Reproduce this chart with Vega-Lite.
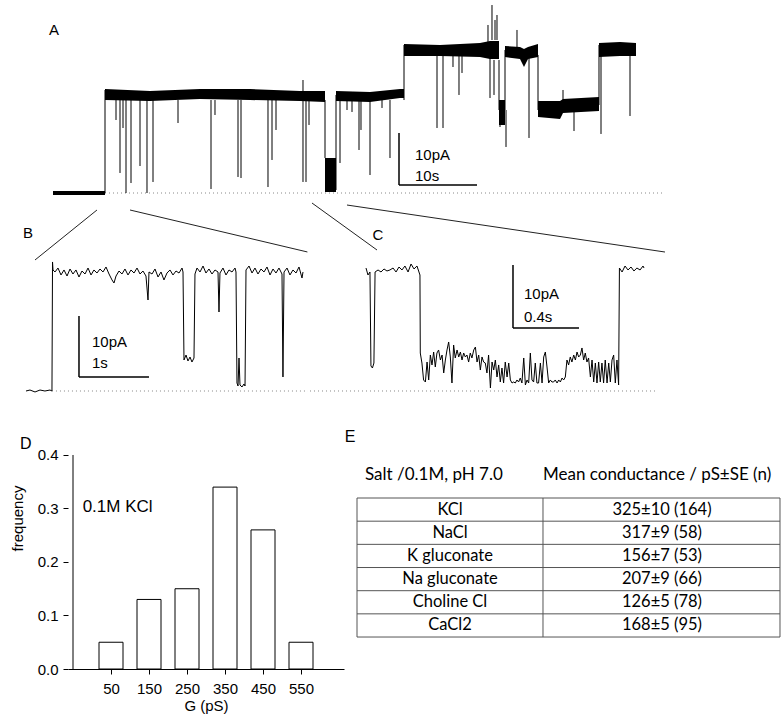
{
"$schema": "https://vega.github.io/schema/vega-lite/v6.json",
"padding": 0,
"autosize": {"type": "pad"},
"background": "white",
"spacing": 0,
"config": {"view": {"stroke": null}, "font": "Liberation Sans", "concat": {"spacing": 0}},
"datasets": {
"a_band": [
{"s":0,"t":0.128,"lo":-0.38,"hi":0.38},{"s":0,"t":6.795,"lo":-0.38,"hi":0.38},
{"s":1,"t":6.795,"lo":17.88,"hi":20.0},{"s":1,"t":12.564,"lo":17.69,"hi":19.62},{"s":1,"t":18.974,"lo":18.08,"hi":20.0},{"s":1,"t":25.385,"lo":17.88,"hi":20.0},{"s":1,"t":31.795,"lo":17.69,"hi":19.62},{"s":1,"t":35.0,"lo":17.5,"hi":19.62},
{"s":2,"t":35.0,"lo":0.19,"hi":6.73},{"s":2,"t":36.41,"lo":0.19,"hi":6.73},
{"s":3,"t":36.41,"lo":17.69,"hi":19.62},{"s":3,"t":40.769,"lo":17.5,"hi":19.42},{"s":3,"t":44.615,"lo":18.27,"hi":20.0},{"s":3,"t":45.128,"lo":18.27,"hi":20.0},
{"s":4,"t":45.128,"lo":26.35,"hi":28.65},{"s":4,"t":49.744,"lo":26.35,"hi":28.46},{"s":4,"t":54.872,"lo":26.15,"hi":28.85},{"s":4,"t":56.154,"lo":25.77,"hi":29.23},{"s":4,"t":57.308,"lo":25.77,"hi":29.23},
{"s":5,"t":57.308,"lo":13.08,"hi":17.88},{"s":5,"t":58.077,"lo":13.08,"hi":17.88},
{"s":6,"t":58.077,"lo":26.15,"hi":28.27},{"s":6,"t":60.0,"lo":25.77,"hi":28.08},{"s":6,"t":60.513,"lo":24.23,"hi":27.69},{"s":6,"t":61.026,"lo":25.77,"hi":28.08},{"s":6,"t":62.308,"lo":26.15,"hi":28.65},
{"s":7,"t":62.308,"lo":14.62,"hi":17.69},{"s":7,"t":65.128,"lo":14.23,"hi":17.69},{"s":7,"t":65.513,"lo":15.38,"hi":18.08},{"s":7,"t":70.128,"lo":15.77,"hi":18.46},
{"s":8,"t":70.128,"lo":26.15,"hi":28.85},{"s":8,"t":72.821,"lo":26.35,"hi":29.04},{"s":8,"t":74.872,"lo":26.35,"hi":28.85}
],
"a_rule": [
{"t":6.795,"a":0,"b":19.81},{"t":35.0,"a":17.88,"b":6.73},{"t":36.41,"a":0.58,"b":18.85},{"t":45.128,"a":17.88,"b":28.46},
{"t":57.308,"a":25.58,"b":15.96},{"t":58.077,"a":15.96,"b":27.5},{"t":62.308,"a":26.54,"b":15.96},{"t":70.128,"a":16.92,"b":28.46},
{"t":8.205,"a":17.88,"b":14.04},{"t":8.718,"a":17.88,"b":3.85},{"t":9.103,"a":17.88,"b":12.5},{"t":9.487,"a":17.88,"b":0},
{"t":10.128,"a":17.88,"b":1.92},{"t":11.282,"a":17.88,"b":5.19},{"t":12.179,"a":17.88,"b":0},{"t":12.949,"a":17.88,"b":2.12},
{"t":16.154,"a":17.88,"b":13.46},{"t":20.385,"a":17.88,"b":0.77},{"t":20.897,"a":17.88,"b":15.0},{"t":23.846,"a":17.88,"b":3.08},
{"t":24.231,"a":17.88,"b":2.88},{"t":27.692,"a":17.88,"b":1.15},{"t":28.205,"a":17.88,"b":6.35},{"t":28.718,"a":17.88,"b":12.12},
{"t":32.179,"a":17.88,"b":2.12},{"t":32.179,"a":18.85,"b":21.73},{"t":32.564,"a":17.88,"b":2.12},{"t":32.949,"a":17.88,"b":13.08},
{"t":36.923,"a":17.88,"b":5.77},{"t":37.821,"a":17.88,"b":15.96},{"t":38.462,"a":17.88,"b":15.58},{"t":39.359,"a":17.88,"b":8.27},
{"t":39.615,"a":17.88,"b":12.12},{"t":40.769,"a":17.88,"b":3.46},{"t":42.308,"a":17.88,"b":16.35},{"t":43.333,"a":17.88,"b":6.73},
{"t":49.359,"a":26.54,"b":12.5},{"t":50.128,"a":26.54,"b":12.5},{"t":51.41,"a":26.54,"b":24.23},{"t":52.179,"a":26.54,"b":18.85},
{"t":52.564,"a":26.54,"b":23.08},{"t":55.897,"a":28.46,"b":32.31},{"t":56.154,"a":26.54,"b":18.27},{"t":56.41,"a":29.42,"b":36.15},
{"t":56.667,"a":25.58,"b":18.85},{"t":56.795,"a":29.42,"b":33.27},{"t":57.051,"a":29.42,"b":34.23},
{"t":57.436,"a":17.88,"b":12.69},{"t":58.205,"a":15.96,"b":8.85},{"t":59.615,"a":26.54,"b":31.35},{"t":61.154,"a":26.54,"b":10.58},
{"t":65.513,"a":16.35,"b":19.81},{"t":66.923,"a":16.35,"b":11.92},{"t":70.385,"a":26.54,"b":11.35},{"t":74.103,"a":26.54,"b":14.81}
],
"b_trace": [
{"t":0,"i":0},{"t":0.057,"i":0.16},{"t":0.129,"i":-0.16},{"t":0.2,"i":0.16},{"t":0.271,"i":0},{"t":0.343,"i":0.16},{"t":0.371,"i":0},
{"t":0.379,"i":21.15},{"t":0.386,"i":19.84},{"t":0.414,"i":19.51},{"t":0.457,"i":20.16},{"t":0.5,"i":19.02},{"t":0.543,"i":19.84},{"t":0.586,"i":18.85},
{"t":0.629,"i":20.0},{"t":0.671,"i":19.18},{"t":0.714,"i":19.84},{"t":0.757,"i":18.69},{"t":0.8,"i":19.67},{"t":0.843,"i":19.18},{"t":0.886,"i":20.16},
{"t":0.929,"i":19.02},{"t":0.971,"i":19.84},{"t":1.014,"i":19.34},{"t":1.057,"i":20.0},{"t":1.1,"i":19.51},{"t":1.143,"i":20.33},{"t":1.186,"i":19.18},
{"t":1.229,"i":18.2},{"t":1.257,"i":17.7},{"t":1.286,"i":18.85},{"t":1.329,"i":19.67},{"t":1.371,"i":19.18},{"t":1.414,"i":20.0},{"t":1.457,"i":19.02},
{"t":1.5,"i":19.84},{"t":1.543,"i":19.34},{"t":1.586,"i":20.16},{"t":1.629,"i":19.18},{"t":1.671,"i":19.67},{"t":1.714,"i":18.85},{"t":1.743,"i":14.92},
{"t":1.757,"i":19.51},{"t":1.8,"i":19.18},{"t":1.843,"i":20.0},{"t":1.886,"i":18.69},{"t":1.929,"i":19.51},{"t":1.971,"i":18.2},{"t":2.014,"i":19.34},
{"t":2.057,"i":19.84},{"t":2.1,"i":19.02},{"t":2.143,"i":19.67},{"t":2.186,"i":19.34},{"t":2.229,"i":20.16},{"t":2.243,"i":19.51},
{"t":2.257,"i":5.08},{"t":2.286,"i":5.9},{"t":2.314,"i":4.92},{"t":2.343,"i":5.57},{"t":2.371,"i":4.75},{"t":2.4,"i":5.41},
{"t":2.414,"i":19.18},{"t":2.443,"i":20.16},{"t":2.486,"i":19.51},{"t":2.529,"i":20.49},{"t":2.571,"i":19.34},{"t":2.614,"i":20.0},{"t":2.657,"i":19.18},
{"t":2.7,"i":19.84},{"t":2.743,"i":19.51},{"t":2.757,"i":12.95},{"t":2.771,"i":19.34},{"t":2.814,"i":20.16},{"t":2.857,"i":19.02},{"t":2.9,"i":19.84},
{"t":2.943,"i":19.51},{"t":2.986,"i":20.16},{"t":3.0,"i":19.51},
{"t":3.014,"i":1.31},{"t":3.029,"i":0.82},{"t":3.043,"i":5.41},{"t":3.057,"i":0.98},{"t":3.086,"i":0.66},{"t":3.114,"i":1.15},{"t":3.129,"i":0.82},
{"t":3.143,"i":19.84},{"t":3.186,"i":20.49},{"t":3.229,"i":19.34},{"t":3.271,"i":20.16},{"t":3.314,"i":19.18},{"t":3.357,"i":20.0},{"t":3.4,"i":19.51},
{"t":3.443,"i":20.33},{"t":3.486,"i":19.02},{"t":3.529,"i":20.0},{"t":3.571,"i":19.34},{"t":3.614,"i":20.16},{"t":3.657,"i":19.18},{"t":3.671,"i":2.3},
{"t":3.686,"i":19.51},{"t":3.729,"i":20.16},{"t":3.771,"i":19.02},{"t":3.814,"i":19.84},{"t":3.857,"i":19.34},{"t":3.9,"i":20.33},{"t":3.943,"i":18.52},{"t":3.957,"i":19.51}
],
"c_trace": [
{"t":0,"i":19.52},{"t":0.012,"i":18.41},{"t":0.024,"i":18.89},{"t":0.03,"i":3.97},{"t":0.039,"i":3.65},{"t":0.048,"i":4.44},{"t":0.055,"i":18.89},
{"t":0.073,"i":19.21},{"t":0.091,"i":18.89},{"t":0.109,"i":19.37},{"t":0.127,"i":19.05},{"t":0.145,"i":19.21},{"t":0.164,"i":19.52},{"t":0.182,"i":18.89},
{"t":0.2,"i":19.68},{"t":0.218,"i":19.21},{"t":0.236,"i":19.84},{"t":0.255,"i":18.89},{"t":0.273,"i":20.16},{"t":0.291,"i":19.37},{"t":0.309,"i":19.84},
{"t":0.321,"i":18.89},{"t":0.327,"i":18.41},
{"t":0.329,"i":6.03},{"t":0.339,"i":4.44},{"t":0.349,"i":1.75},{"t":0.36,"i":1.43},{"t":0.37,"i":4.6},{"t":0.38,"i":1.75},{"t":0.39,"i":5.71},{"t":0.4,"i":4.13},
{"t":0.41,"i":6.19},{"t":0.42,"i":3.81},{"t":0.43,"i":6.03},{"t":0.44,"i":6.51},{"t":0.451,"i":4.92},{"t":0.461,"i":5.71},{"t":0.471,"i":2.86},{"t":0.481,"i":4.92},
{"t":0.491,"i":6.51},{"t":0.501,"i":7.78},{"t":0.511,"i":5.4},{"t":0.521,"i":1.27},{"t":0.531,"i":7.3},{"t":0.541,"i":5.24},{"t":0.552,"i":6.51},{"t":0.562,"i":5.4},
{"t":0.572,"i":6.19},{"t":0.582,"i":4.92},{"t":0.592,"i":6.03},{"t":0.602,"i":5.4},{"t":0.612,"i":5.71},{"t":0.622,"i":4.6},{"t":0.632,"i":6.03},{"t":0.642,"i":5.24},
{"t":0.653,"i":6.51},{"t":0.663,"i":6.98},{"t":0.673,"i":4.6},{"t":0.683,"i":5.71},{"t":0.693,"i":3.33},{"t":0.703,"i":5.4},{"t":0.713,"i":4.6},{"t":0.723,"i":4.44},
{"t":0.733,"i":2.86},{"t":0.743,"i":5.71},{"t":0.754,"i":0.48},{"t":0.764,"i":4.6},{"t":0.774,"i":3.33},{"t":0.784,"i":4.92},{"t":0.794,"i":2.22},{"t":0.804,"i":4.13},
{"t":0.814,"i":1.43},{"t":0.824,"i":3.65},{"t":0.834,"i":1.27},{"t":0.844,"i":4.6},{"t":0.855,"i":2.22},{"t":0.865,"i":4.44},{"t":0.875,"i":1.75},{"t":0.885,"i":1.27},
{"t":0.895,"i":1.43},{"t":0.905,"i":1.27},{"t":0.915,"i":1.75},{"t":0.925,"i":1.43},{"t":0.935,"i":2.06},{"t":0.945,"i":1.27},{"t":0.956,"i":5.24},{"t":0.966,"i":0.95},
{"t":0.976,"i":1.75},{"t":0.986,"i":1.27},{"t":0.996,"i":6.03},{"t":1.006,"i":1.75},{"t":1.016,"i":1.43},{"t":1.026,"i":4.44},{"t":1.036,"i":1.27},{"t":1.046,"i":1.27},
{"t":1.057,"i":4.44},{"t":1.067,"i":1.27},{"t":1.077,"i":5.4},{"t":1.087,"i":6.19},{"t":1.097,"i":3.81},{"t":1.107,"i":1.27},{"t":1.117,"i":1.75},{"t":1.127,"i":1.43},
{"t":1.137,"i":1.43},{"t":1.147,"i":1.75},{"t":1.158,"i":1.27},{"t":1.168,"i":1.75},{"t":1.178,"i":1.43},{"t":1.188,"i":2.06},{"t":1.198,"i":1.75},{"t":1.208,"i":2.22},
{"t":1.218,"i":4.92},{"t":1.228,"i":4.13},{"t":1.238,"i":5.4},{"t":1.248,"i":4.6},{"t":1.259,"i":5.71},{"t":1.269,"i":4.92},{"t":1.279,"i":6.19},{"t":1.289,"i":5.4},
{"t":1.299,"i":5.71},{"t":1.309,"i":6.83},{"t":1.319,"i":4.92},{"t":1.329,"i":6.03},{"t":1.339,"i":4.6},{"t":1.349,"i":5.24},{"t":1.36,"i":2.22},{"t":1.37,"i":4.92},
{"t":1.38,"i":1.43},{"t":1.39,"i":4.44},{"t":1.4,"i":1.27},{"t":1.41,"i":4.6},{"t":1.42,"i":1.43},{"t":1.43,"i":4.44},{"t":1.44,"i":1.27},{"t":1.45,"i":4.92},
{"t":1.461,"i":1.27},{"t":1.471,"i":4.44},{"t":1.481,"i":1.43},{"t":1.491,"i":4.92},{"t":1.501,"i":5.71},{"t":1.511,"i":1.27},{"t":1.521,"i":4.92},{"t":1.531,"i":0.95},
{"t":1.536,"i":19.52},{"t":1.552,"i":18.89},{"t":1.57,"i":19.84},{"t":1.588,"i":19.21},{"t":1.606,"i":19.68},{"t":1.624,"i":19.05},{"t":1.642,"i":19.52},
{"t":1.661,"i":19.21},{"t":1.679,"i":19.84},{"t":1.685,"i":19.52}
],
"hist": [{"g":50,"f":0.05},{"g":150,"f":0.13},{"g":250,"f":0.15},{"g":350,"f":0.34},{"g":450,"f":0.26},{"g":550,"f":0.05}],
"salts": [
{"row":1,"salt":"KCl","g":"325±10 (164)"},
{"row":2,"salt":"NaCl","g":"317±9 (58)"},
{"row":3,"salt":"K gluconate","g":"156±7 (53)"},
{"row":4,"salt":"Na gluconate","g":"207±9 (66)"},
{"row":5,"salt":"Choline Cl","g":"126±5 (78)"},
{"row":6,"salt":"CaCl2","g":"168±5 (95)"}
],
"hlines": [{"r":0.5},{"r":1.5},{"r":2.5},{"r":3.5},{"r":4.5},{"r":5.5},{"r":6.5}],
"vlines": [{"c":0},{"c":0.4397},{"c":1}]
},
"vconcat": [
{
"width": 784, "height": 200,
"layer": [
{"data": {"values": [{}]}, "mark": {"type": "rule", "color": "#888", "strokeDash": [1, 3], "strokeWidth": 1},
 "encoding": {"x": {"datum": 0.128, "type": "quantitative", "scale": {"domain": [-6.667, 93.846], "nice": false, "zero": false}, "axis": null}, "x2": {"datum": 78.59}, "y": {"datum": 0, "type": "quantitative", "scale": {"domain": [-1.346, 37.115], "nice": false, "zero": false}, "axis": null}}},
{"data": {"name": "a_band"}, "mark": {"type": "area", "color": "black"},
 "encoding": {"x": {"field": "t", "type": "quantitative", "scale": {"domain": [-6.667, 93.846], "nice": false, "zero": false}, "axis": null}, "y": {"field": "hi", "type": "quantitative", "scale": {"domain": [-1.346, 37.115], "nice": false, "zero": false}, "axis": null}, "y2": {"field": "lo"}, "detail": {"field": "s"}}},
{"data": {"name": "a_rule"}, "mark": {"type": "rule", "color": "black", "strokeWidth": 1},
 "encoding": {"x": {"field": "t", "type": "quantitative", "scale": {"domain": [-6.667, 93.846], "nice": false, "zero": false}, "axis": null}, "y": {"field": "a", "type": "quantitative", "scale": {"domain": [-1.346, 37.115], "nice": false, "zero": false}, "axis": null}, "y2": {"field": "b"}}},
{"data": {"values": [{}]}, "mark": {"type": "rule", "color": "black", "strokeWidth": 1.5},
 "encoding": {"x": {"datum": 44.487, "type": "quantitative"}, "y": {"datum": 11.54, "type": "quantitative"}, "y2": {"datum": 1.54}}},
{"data": {"values": [{}]}, "mark": {"type": "rule", "color": "black", "strokeWidth": 1.5},
 "encoding": {"x": {"datum": 44.487, "type": "quantitative"}, "x2": {"datum": 54.487}, "y": {"datum": 1.54, "type": "quantitative"}}},
{"data": {"values": [{}]}, "mark": {"type": "text", "text": "10pA", "align": "left", "baseline": "middle", "fontSize": 15, "font": "Liberation Sans"},
 "encoding": {"x": {"datum": 46.54, "type": "quantitative"}, "y": {"datum": 7.31, "type": "quantitative"}}},
{"data": {"values": [{}]}, "mark": {"type": "text", "text": "10s", "align": "left", "baseline": "middle", "fontSize": 15, "font": "Liberation Sans"},
 "encoding": {"x": {"datum": 46.54, "type": "quantitative"}, "y": {"datum": 3.27, "type": "quantitative"}}},
{"data": {"values": [{}]}, "mark": {"type": "text", "text": "A", "align": "center", "baseline": "middle", "fontSize": 15, "font": "Liberation Sans"},
 "encoding": {"x": {"datum": 0.256, "type": "quantitative"}, "y": {"datum": 31.35, "type": "quantitative"}}}
]
},
{
"hconcat": [
{
"width": 308, "height": 200,
"layer": [
{"data": {"values": [{}]}, "mark": {"type": "rule", "color": "#888", "strokeDash": [1, 3], "strokeWidth": 1},
 "encoding": {"x": {"datum": 0.371, "type": "quantitative", "scale": {"domain": [-0.3714, 4.0286], "nice": false, "zero": false}, "axis": null}, "x2": {"datum": 4.0286}, "y": {"datum": 0, "type": "quantitative", "scale": {"domain": [-1.475, 31.311], "nice": false, "zero": false}, "axis": null}}},
{"data": {"name": "b_trace"}, "mark": {"type": "line", "color": "black", "strokeWidth": 1},
 "encoding": {"x": {"field": "t", "type": "quantitative", "scale": {"domain": [-0.3714, 4.0286], "nice": false, "zero": false}, "axis": null}, "y": {"field": "i", "type": "quantitative", "scale": {"domain": [-1.475, 31.311], "nice": false, "zero": false}, "axis": null}}},
{"data": {"values": [{"x1": 1.014, "y1": 29.67, "x2": 0.129, "y2": 21.48}, {"x1": 1.486, "y1": 29.67, "x2": 4.02, "y2": 22.79}]}, "mark": {"type": "rule", "color": "#222", "strokeWidth": 1},
 "encoding": {"x": {"field": "x1", "type": "quantitative"}, "y": {"field": "y1", "type": "quantitative"}, "x2": {"field": "x2"}, "y2": {"field": "y2"}}},
{"data": {"values": [{}]}, "mark": {"type": "rule", "color": "black", "strokeWidth": 1.5},
 "encoding": {"x": {"datum": 0.757, "type": "quantitative"}, "y": {"datum": 12.3, "type": "quantitative"}, "y2": {"datum": 2.3}}},
{"data": {"values": [{}]}, "mark": {"type": "rule", "color": "black", "strokeWidth": 1.5},
 "encoding": {"x": {"datum": 0.757, "type": "quantitative"}, "x2": {"datum": 1.757}, "y": {"datum": 2.3, "type": "quantitative"}}},
{"data": {"values": [{}]}, "mark": {"type": "text", "text": "10pA", "align": "left", "baseline": "middle", "fontSize": 15, "font": "Liberation Sans"},
 "encoding": {"x": {"datum": 0.943, "type": "quantitative"}, "y": {"datum": 8.03, "type": "quantitative"}}},
{"data": {"values": [{}]}, "mark": {"type": "text", "text": "1s", "align": "left", "baseline": "middle", "fontSize": 15, "font": "Liberation Sans"},
 "encoding": {"x": {"datum": 0.943, "type": "quantitative"}, "y": {"datum": 4.59, "type": "quantitative"}}},
{"data": {"values": [{}]}, "mark": {"type": "text", "text": "B", "align": "center", "baseline": "middle", "fontSize": 15, "font": "Liberation Sans"},
 "encoding": {"x": {"datum": 0.029, "type": "quantitative"}, "y": {"datum": 25.9, "type": "quantitative"}}}
]
},
{
"width": 476, "height": 200,
"layer": [
{"data": {"values": [{}]}, "mark": {"type": "rule", "color": "#888", "strokeDash": [1, 3], "strokeWidth": 1},
 "encoding": {"x": {"datum": -0.3394, "type": "quantitative", "scale": {"domain": [-0.3394, 2.5455], "nice": false, "zero": false}, "axis": null}, "x2": {"datum": 1.7515}, "y": {"datum": 0, "type": "quantitative", "scale": {"domain": [-1.4286, 30.317], "nice": false, "zero": false}, "axis": null}}},
{"data": {"name": "c_trace"}, "mark": {"type": "line", "color": "black", "strokeWidth": 1},
 "encoding": {"x": {"field": "t", "type": "quantitative", "scale": {"domain": [-0.3394, 2.5455], "nice": false, "zero": false}, "axis": null}, "y": {"field": "i", "type": "quantitative", "scale": {"domain": [-1.4286, 30.317], "nice": false, "zero": false}, "axis": null}}},
{"data": {"values": [{"x1": -0.3273, "y1": 29.84, "x2": 0.0667, "y2": 22.38}, {"x1": -0.1152, "y1": 29.52, "x2": 1.8121, "y2": 22.06}]}, "mark": {"type": "rule", "color": "#222", "strokeWidth": 1},
 "encoding": {"x": {"field": "x1", "type": "quantitative"}, "y": {"field": "y1", "type": "quantitative"}, "x2": {"field": "x2"}, "y2": {"field": "y2"}}},
{"data": {"values": [{}]}, "mark": {"type": "rule", "color": "black", "strokeWidth": 1.5},
 "encoding": {"x": {"datum": 0.8909, "type": "quantitative"}, "y": {"datum": 20.0, "type": "quantitative"}, "y2": {"datum": 10.0}}},
{"data": {"values": [{}]}, "mark": {"type": "rule", "color": "black", "strokeWidth": 1.5},
 "encoding": {"x": {"datum": 0.8909, "type": "quantitative"}, "x2": {"datum": 1.2909}, "y": {"datum": 10.0, "type": "quantitative"}}},
{"data": {"values": [{}]}, "mark": {"type": "text", "text": "10pA", "align": "left", "baseline": "middle", "fontSize": 15, "font": "Liberation Sans"},
 "encoding": {"x": {"datum": 0.9576, "type": "quantitative"}, "y": {"datum": 15.4, "type": "quantitative"}}},
{"data": {"values": [{}]}, "mark": {"type": "text", "text": "0.4s", "align": "left", "baseline": "middle", "fontSize": 15, "font": "Liberation Sans"},
 "encoding": {"x": {"datum": 0.9576, "type": "quantitative"}, "y": {"datum": 11.75, "type": "quantitative"}}},
{"data": {"values": [{}]}, "mark": {"type": "text", "text": "C", "align": "center", "baseline": "middle", "fontSize": 15, "font": "Liberation Sans"},
 "encoding": {"x": {"datum": 0.0727, "type": "quantitative"}, "y": {"datum": 24.76, "type": "quantitative"}}}
]
}
],
"spacing": 0
},
{
"hconcat": [
{"width": 10, "height": 326, "data": {"values": [{}]}, "mark": {"type": "text", "text": ""}, "encoding": {}},
{
"width": 276, "height": 269,
"layer": [
{"data": {"name": "hist"}, "mark": {"type": "bar", "fill": "white", "stroke": "black", "strokeWidth": 1, "width": 24},
 "encoding": {
  "x": {"field": "g", "type": "quantitative", "scale": {"domain": [-50, 650], "nice": false, "zero": false},
        "axis": {"values": [50, 150, 250, 350, 450, 550], "title": "G (pS)", "grid": false, "domainColor": "black", "tickColor": "black", "tickSize": 5, "labelFontSize": 15, "labelColor": "black", "labelFont": "Liberation Sans", "labelPadding": 7, "titleFontSize": 15, "titleFont": "Liberation Sans", "titleFontWeight": "normal", "titleColor": "black", "titlePadding": 2}},
  "y": {"field": "f", "type": "quantitative", "scale": {"domain": [0, 0.5028], "nice": false, "zero": false},
        "axis": {"values": [0, 0.1, 0.2, 0.3, 0.4], "format": ".1f", "title": "frequency", "grid": false, "domain": false, "tickColor": "black", "tickSize": 5, "labelFontSize": 15, "labelColor": "black", "labelFont": "Liberation Sans", "labelPadding": 5, "titleFontSize": 15, "titleFont": "Liberation Sans", "titleFontWeight": "normal", "titleColor": "black", "titlePadding": 12, "titleY": 118}},
  "y2": {"datum": 0}}},
{"data": {"values": [{}]}, "mark": {"type": "rule", "color": "black", "strokeWidth": 1},
 "encoding": {"x": {"datum": -50, "type": "quantitative"}, "y": {"datum": 0, "type": "quantitative"}, "y2": {"datum": 0.4}}},
{"data": {"values": [{}]}, "mark": {"type": "text", "text": "0.1M KCl", "align": "left", "baseline": "middle", "fontSize": 17, "font": "Liberation Sans"},
 "encoding": {"x": {"datum": -24.6, "type": "quantitative"}, "y": {"datum": 0.3028, "type": "quantitative"}}},
{"data": {"values": [{}]}, "mark": {"type": "text", "text": "D", "align": "center", "baseline": "middle", "fontSize": 16, "font": "Liberation Sans"},
 "encoding": {"x": {"datum": -174.4, "type": "quantitative"}, "y": {"datum": 0.4206, "type": "quantitative"}}}
]
},
{
"width": 436, "height": 326,
"layer": [
{"data": {"name": "hlines"}, "mark": {"type": "rule", "color": "#555", "strokeWidth": 1},
 "encoding": {"x": {"datum": 0, "type": "quantitative", "scale": {"domain": [-0.02128, 1.00946], "nice": false, "zero": false}, "axis": null}, "x2": {"datum": 1}, "y": {"field": "r", "type": "quantitative", "scale": {"domain": [-3.73, 10.34], "nice": false, "zero": false, "reverse": true}, "axis": null}}},
{"data": {"name": "vlines"}, "mark": {"type": "rule", "color": "#555", "strokeWidth": 1},
 "encoding": {"x": {"field": "c", "type": "quantitative", "scale": {"domain": [-0.02128, 1.00946], "nice": false, "zero": false}, "axis": null}, "y": {"datum": 0.5, "type": "quantitative", "scale": {"domain": [-3.73, 10.34], "nice": false, "zero": false, "reverse": true}, "axis": null}, "y2": {"datum": 6.5}}},
{"data": {"name": "salts"}, "mark": {"type": "text", "align": "center", "baseline": "middle", "fontSize": 16.5, "font": "Lato", "color": "black"},
 "encoding": {"x": {"datum": 0.2199, "type": "quantitative"}, "y": {"field": "row", "type": "quantitative"}, "text": {"field": "salt"}}},
{"data": {"name": "salts"}, "mark": {"type": "text", "align": "center", "baseline": "middle", "fontSize": 16.5, "font": "Lato", "color": "black"},
 "encoding": {"x": {"datum": 0.721, "type": "quantitative"}, "y": {"field": "row", "type": "quantitative"}, "text": {"field": "g"}}},
{"data": {"values": [{}]}, "mark": {"type": "text", "text": "Salt /0.1M, pH 7.0", "align": "left", "baseline": "middle", "fontSize": 17, "font": "Lato", "color": "black"},
 "encoding": {"x": {"datum": 0.0189, "type": "quantitative"}, "y": {"datum": -0.493, "type": "quantitative"}}},
{"data": {"values": [{}]}, "mark": {"type": "text", "text": "Mean conductance / pS±SE (n)", "align": "left", "baseline": "middle", "fontSize": 17, "font": "Lato", "color": "black"},
 "encoding": {"x": {"datum": 0.4397, "type": "quantitative"}, "y": {"datum": -0.493, "type": "quantitative"}}},
{"data": {"values": [{}]}, "mark": {"type": "text", "text": "E", "align": "center", "baseline": "middle", "fontSize": 16, "font": "Liberation Sans"},
 "encoding": {"x": {"datum": -0.0165, "type": "quantitative"}, "y": {"datum": -2.133, "type": "quantitative"}}}
]
}
],
"spacing": 0
}
]
}
